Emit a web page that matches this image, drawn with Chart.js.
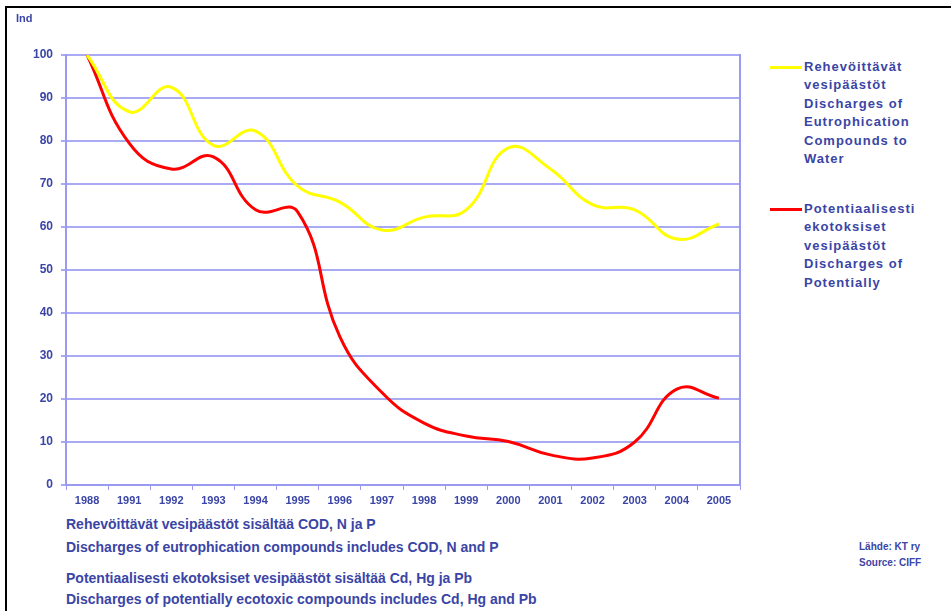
<!DOCTYPE html>
<html>
<head>
<meta charset="utf-8">
<script src="https://cdn.jsdelivr.net/npm/chart.js@4"></script>
<style>
  html, body { margin: 0; padding: 0; background: #fff; }
  body { width: 951px; height: 611px; position: relative; overflow: hidden; font-family: "Liberation Sans", Arial, sans-serif; }
  #frame { position: absolute; left: 5px; top: 6px; width: 960px; height: 620px; border-top: 2px solid #000; border-left: 2px solid #000; }
  #chart { position: absolute; left: 0; top: 0; }
  .txt { position: absolute; color: #3A45A5; font-weight: bold; white-space: nowrap; }
  .leg { font-size: 13px; line-height: 18.5px; letter-spacing: 1px; left: 804px; }
  .sw { position: absolute; left: 770px; width: 32px; height: 3px; }
  .note { font-size: 14px; line-height: 16px; left: 66px; }
  .src { font-size: 10px; line-height: 16px; left: 859px; }
</style>
</head>
<body>
<div id="frame"></div>
<canvas id="chart" width="750" height="510"></canvas>
<div class="txt" style="left:16px; top:11px; font-size:11px; line-height:14px;">Ind</div>

<div class="sw" style="top:66px; background:#FFFF00;"></div>
<div class="txt leg" style="top:57.5px;">Rehevöittävät<br>vesipäästöt<br>Discharges of<br>Eutrophication<br>Compounds to<br>Water</div>
<div class="sw" style="top:208px; background:#FF0000;"></div>
<div class="txt leg" style="top:199.5px;">Potentiaalisesti<br>ekotoksiset<br>vesipäästöt<br>Discharges of<br>Potentially</div>

<div class="txt note" style="top:516px;">Rehevöittävät vesipäästöt sisältää COD, N ja P</div>
<div class="txt note" style="top:539px;">Discharges of eutrophication compounds includes COD, N and P</div>
<div class="txt note" style="top:570px;">Potentiaalisesti ekotoksiset vesipäästöt sisältää Cd, Hg ja Pb</div>
<div class="txt note" style="top:591px;">Discharges of potentially ecotoxic compounds includes Cd, Hg and Pb</div>

<div class="txt src" style="top:539px;">Lähde: KT ry</div>
<div class="txt src" style="top:555px;">Source: CIFF</div>

<script>
const years = ['1988','1991','1992','1993','1994','1995','1996','1997','1998','1999','2000','2001','2002','2003','2004','2005'];
const eutrophication = [100, 86.8, 92.5, 79, 82.3, 69.5, 65.8, 59.3, 62.3, 64, 78.4, 73.5, 65.2, 64, 57.2, 60.7];
const ecotoxic = [100, 79.5, 73.5, 76.3, 64, 63.5, 34.5, 21.5, 14.4, 11.4, 10.1, 7, 6.3, 10, 22.3, 20.2];
const yTicks = [0, 10, 20, 30, 40, 50, 60, 70, 80, 90, 100];

const textColor = '#3A45A5';
const gridColor = '#A9A9F4';
const axisColor = '#9A9AF0';
const xFont = { family: '"Liberation Sans", Arial, sans-serif', size: 11, weight: 'bold' };
const yFont = { family: '"Liberation Sans", Arial, sans-serif', size: 12, weight: 'bold' };

new Chart(document.getElementById('chart'), {
  type: 'line',
  data: {
    labels: years,
    datasets: [
      { label: 'Rehevöittävät vesipäästöt', data: eutrophication, borderColor: '#FFFF00', borderWidth: 3, pointRadius: 0, tension: 0.45, fill: false },
      { label: 'Potentiaalisesti ekotoksiset vesipäästöt', data: ecotoxic, borderColor: '#FF0000', borderWidth: 3, pointRadius: 0, tension: 0.45, fill: false }
    ]
  },
  options: {
    responsive: false,
    animation: false,
    events: [],
    layout: { padding: { left: 0, top: 55, right: 10, bottom: 0 } },
    plugins: { legend: { display: false }, title: { display: false }, tooltip: { enabled: false } },
    scales: {
      x: {
        type: 'category',
        offset: true,
        grid: { offset: true, drawOnChartArea: false, drawTicks: true, tickLength: 5, color: axisColor, lineWidth: 1 },
        border: { display: true, color: axisColor, width: 2 },
        ticks: { color: textColor, font: xFont, padding: 4, maxRotation: 0, autoSkip: false },
        afterFit: (s) => { s.height = 25; }
      },
      y: {
        min: 0, max: 100,
        afterBuildTicks: (s) => { s.ticks = yTicks.map(v => ({ value: v })); },
        grid: { color: gridColor, lineWidth: 2, drawTicks: true, tickLength: 5 },
        border: { display: true, color: axisColor, width: 2 },
        ticks: { color: textColor, font: yFont, padding: 8 },
        afterFit: (s) => { s.width = 66; }
      },
      y2: {
        position: 'right',
        min: 0, max: 100,
        grid: { drawOnChartArea: false, drawTicks: false },
        border: { display: true, color: axisColor, width: 2 },
        ticks: { display: false },
        afterFit: (s) => { s.width = 0; }
      }
    }
  }
});
</script>
</body>
</html>
